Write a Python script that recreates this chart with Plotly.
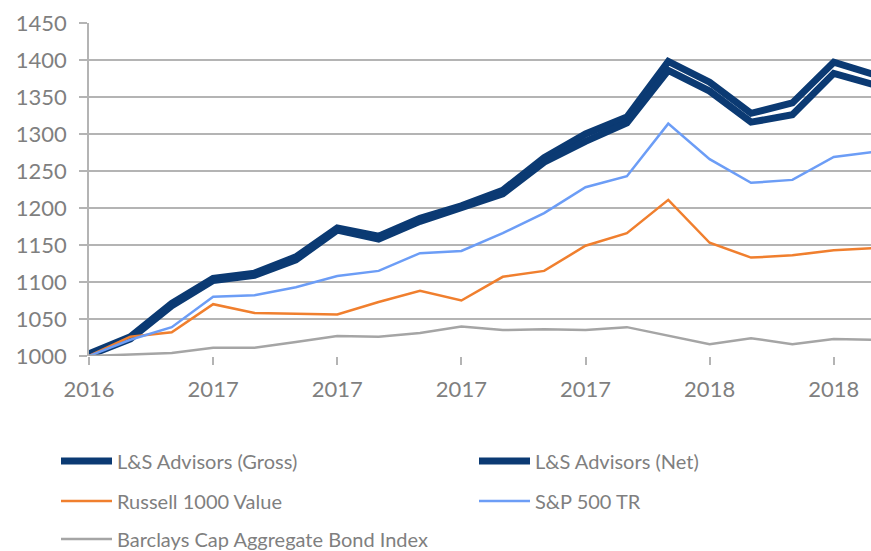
import plotly.graph_objects as go

months = ["Dec 2016", "Jan 2017", "Feb 2017", "Mar 2017", "Apr 2017", "May 2017",
          "Jun 2017", "Jul 2017", "Aug 2017", "Sep 2017", "Oct 2017", "Nov 2017",
          "Dec 2017", "Jan 2018", "Feb 2018", "Mar 2018", "Apr 2018", "May 2018",
          "Jun 2018", "Jul 2018"]
tick_months = ["Dec 2016", "Mar 2017", "Jun 2017", "Sep 2017", "Dec 2017", "Mar 2018", "Jun 2018"]
tick_labels = ["2016", "2017", "2017", "2017", "2017", "2018", "2018"]

gross = [1003, 1026, 1071, 1105, 1112, 1134, 1173, 1162, 1186, 1203, 1224, 1268,
         1300, 1323, 1398, 1370, 1328, 1342, 1397, 1380]
net = [1001, 1023, 1068, 1102, 1109, 1130, 1170, 1158, 1182, 1200, 1219, 1262,
       1290, 1315, 1386, 1358, 1316, 1326, 1382, 1366]
russell = [1000, 1026, 1032, 1070, 1058, 1057, 1056, 1073, 1088, 1075, 1107, 1115,
           1149, 1166, 1211, 1153, 1133, 1136, 1143, 1146]
sp500 = [1000, 1022, 1039, 1080, 1082, 1093, 1108, 1115, 1139, 1142, 1166, 1193,
         1228, 1243, 1314, 1266, 1234, 1238, 1269, 1276]
barclays = [1000, 1002, 1004, 1011, 1011, 1019, 1027, 1026, 1031, 1040, 1035, 1036,
            1035, 1039, 1027, 1016, 1024, 1016, 1023, 1022]

FONT = "Lato"
GRAY_TXT = "#7F7F7F"
GRID = "#B4B4B4"

fig = go.Figure()
fig.add_trace(go.Scatter(x=months, y=gross, mode="lines", name="L&S Advisors (Gross)",
                         line=dict(color="#0B3A73", width=7), legend="legend"))
fig.add_trace(go.Scatter(x=months, y=net, mode="lines", name="L&S Advisors (Net)",
                         line=dict(color="#0B3A73", width=7), legend="legend2"))
fig.add_trace(go.Scatter(x=months, y=russell, mode="lines", name="Russell 1000 Value",
                         line=dict(color="#F07F2E", width=2.5), legend="legend3"))
fig.add_trace(go.Scatter(x=months, y=sp500, mode="lines", name="S&P 500 TR",
                         line=dict(color="#6C9DF6", width=2.5), legend="legend4"))
fig.add_trace(go.Scatter(x=months, y=barclays, mode="lines", name="Barclays Cap Aggregate Bond Index",
                         line=dict(color="#A5A5A5", width=2.5), legend="legend5"))

def leg(xpix, ypix):
    return dict(orientation="v", xref="container", yref="container",
                x=xpix / 871, xanchor="left", y=1 - ypix / 551, yanchor="middle",
                itemwidth=51,
                font=dict(family=FONT, size=20, color=GRAY_TXT),
                bgcolor="rgba(0,0,0,0)")

fig.update_layout(
    width=871, height=551,
    margin=dict(l=89, r=0, t=23, b=195, autoexpand=False),
    paper_bgcolor="white", plot_bgcolor="white",
    font=dict(family=FONT, color=GRAY_TXT),
    showlegend=True,
    legend=leg(56, 461),
    legend2=leg(474, 461),
    legend3=leg(56, 501),
    legend4=leg(474, 501),
    legend5=leg(56, 539),
)
fig.update_xaxes(
    type="category", range=[0, 18.9], automargin=False,
    tickmode="array", tickvals=tick_months, ticktext=tick_labels,
    ticks="outside", ticklen=8, tickwidth=1.5, tickcolor=GRID,
    showline=False, showgrid=False, zeroline=False,
    tickfont=dict(family=FONT, size=22, color=GRAY_TXT),
    ticklabelstandoff=6,
)
fig.update_yaxes(
    range=[1000, 1450], dtick=50, tick0=1000, automargin=False,
    ticks="outside", ticklen=8, tickwidth=1.5, tickcolor=GRID,
    showgrid=True, gridcolor=GRID, gridwidth=1.5,
    showline=True, linecolor=GRID, linewidth=1.5,
    zeroline=False,
    tickfont=dict(family=FONT, size=22, color=GRAY_TXT),
    ticklabelstandoff=8,
)

fig.write_html("out.html", config={"displayModeBar": False},
               post_script="document.body.style.margin='0px';document.body.style.overflow='hidden';")
